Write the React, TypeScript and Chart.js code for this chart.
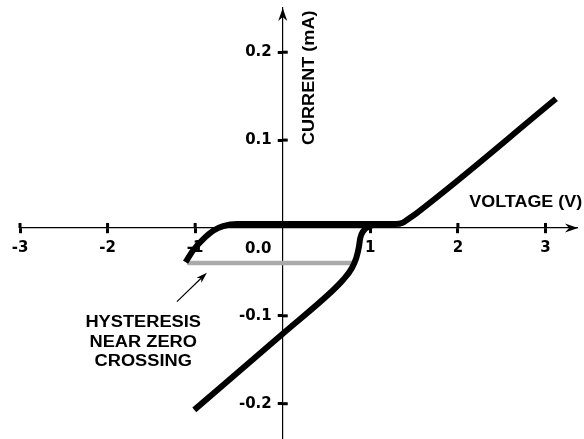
import React, { useEffect, useRef } from 'react';
import { Chart, registerables } from 'chart.js';

Chart.register(...registerables);

// Upper branch (sweep toward positive voltage), V and mA
const upperVoltage = [-1.11, -1.02, -0.91, -0.79, -0.68, -0.52, -0.26, 0.2, 0.77, 1.29, 1.37, 1.43, 1.53, 3.12];
const upperCurrent = [-0.039, -0.025, -0.013, -0.003, 0.002, 0.0045, 0.0045, 0.0045, 0.0045, 0.0045, 0.006, 0.01, 0.017, 0.147];

// Lower branch
const lowerVoltage = [-1.01, 0.01, 0.54, 0.69, 0.79, 0.84, 0.87, 0.885, 0.92, 0.98, 1.06, 1.17];
const lowerCurrent = [-0.207, -0.1195, -0.074, -0.059, -0.0455, -0.034, -0.0215, -0.0115, -0.0035, 0.0015, 0.004, 0.0045];

// Hysteresis (grey) segment
const hysteresisVoltage = [-1.09, 0.83];
const hysteresisCurrent = [-0.0398, -0.0398];

// Axis ticks
const xTickValues = [-3, -2, -1, 1, 2, 3];
const xTickLabels = ['-3', '-2', '-1', '1', '2', '3'];
const yTickValues = [-0.2, -0.1, 0.1, 0.2];
const yTickLabels = ['-0.2', '-0.1', '0.1', '0.2'];
const originLabel = '0.0';
const xTitle = 'VOLTAGE (V)';
const yTitle = 'CURRENT (mA)';
const noteLines = ['HYSTERESIS', 'NEAR ZERO', 'CROSSING'];

const FONT = '"Liberation Sans", Arial, Helvetica, sans-serif';
const TICK_FONT = '"DejaVu Sans", Verdana, sans-serif';

const toPoints = (xs: number[], ys: number[]) => xs.map((x, i) => ({ x, y: ys[i] }));

const decorPlugin = {
  id: 'decor',
  afterLayout(chart: any) {
    const ys = chart.scales.y;
    const x0 = chart.scales.x.getPixelForValue(0);
    ys.left = 0;
    ys.right = x0;
  },
  beforeDatasetsDraw(chart: any) {
    const { ctx, chartArea } = chart;
    const xs = chart.scales.x;
    const ys = chart.scales.y;
    const x0 = xs.getPixelForValue(0);
    const y0 = ys.getPixelForValue(0);
    ctx.save();
    ctx.strokeStyle = '#000';
    ctx.fillStyle = '#000';
    ctx.lineWidth = 3;
    // other halves of tick marks
    xTickValues.forEach((v) => {
      const p = xs.getPixelForValue(v);
      ctx.beginPath();
      ctx.moveTo(p, y0);
      ctx.lineTo(p, y0 - 5);
      ctx.stroke();
    });
    yTickValues.forEach((v) => {
      const p = ys.getPixelForValue(v);
      ctx.beginPath();
      ctx.moveTo(x0, p);
      ctx.lineTo(x0 + 5, p);
      ctx.stroke();
    });
    // arrowheads
    const R = chartArea.right + 1;
    ctx.beginPath();
    ctx.moveTo(R, y0);
    ctx.lineTo(R - 13, y0 - 4.5);
    ctx.lineTo(R - 9, y0);
    ctx.lineTo(R - 13, y0 + 4.5);
    ctx.closePath();
    ctx.fill();
    const T = chartArea.top;
    ctx.beginPath();
    ctx.moveTo(x0, T);
    ctx.lineTo(x0 - 4.5, T + 13);
    ctx.lineTo(x0, T + 9);
    ctx.lineTo(x0 + 4.5, T + 13);
    ctx.closePath();
    ctx.fill();
    ctx.restore();
  },
  afterDraw(chart: any) {
    const { ctx } = chart;
    const xs = chart.scales.x;
    const ys = chart.scales.y;
    const px = (v: number) => xs.getPixelForValue(v);
    const py = (v: number) => ys.getPixelForValue(v);
    const stretched = (text: string, x: number, y: number, sx: number, font: string) => {
      ctx.save();
      ctx.font = font;
      ctx.textAlign = 'center';
      ctx.textBaseline = 'alphabetic';
      ctx.translate(x, y);
      ctx.scale(sx, 1);
      ctx.fillText(text, 0, 0);
      ctx.restore();
    };
    ctx.save();
    ctx.fillStyle = '#000';
    // origin label
    stretched(originLabel, px(-0.28), py(-0.0284), 1.0, `bold 15px ${TICK_FONT}`);
    // x title
    stretched(xTitle, px(2.775), py(0.0233), 1.12, `bold 16px ${FONT}`);
    // y title (rotated)
    ctx.save();
    ctx.translate(px(0.36), py(0.1709));
    ctx.rotate(-Math.PI / 2);
    ctx.scale(1.13, 1);
    ctx.font = `bold 16px ${FONT}`;
    ctx.textAlign = 'center';
    ctx.textBaseline = 'alphabetic';
    ctx.fillText(yTitle, 0, 0);
    ctx.restore();
    // note
    const noteY = [-0.1123, -0.1351, -0.1567];
    noteLines.forEach((t, i) => stretched(t, px(-1.593), py(noteY[i]), 1.14, `bold 16px ${FONT}`));
    // note arrow
    const tx = px(-1.208), ty = py(-0.0838);
    const hx = px(-0.866), hy = py(-0.0509);
    const ang = Math.atan2(hy - ty, hx - tx);
    ctx.strokeStyle = '#000';
    ctx.lineWidth = 1.2;
    ctx.beginPath();
    ctx.moveTo(tx, ty);
    ctx.lineTo(hx - 8 * Math.cos(ang), hy - 8 * Math.sin(ang));
    ctx.stroke();
    ctx.beginPath();
    ctx.translate(hx, hy);
    ctx.rotate(ang);
    ctx.moveTo(0, 0);
    ctx.lineTo(-11, -3.5);
    ctx.lineTo(-8, 0);
    ctx.lineTo(-11, 3.5);
    ctx.closePath();
    ctx.fill();
    ctx.restore();
  },
};

export default function App() {
  const ref = useRef<HTMLCanvasElement | null>(null);
  useEffect(() => {
    if (!ref.current) return;
    const tickFont = { family: TICK_FONT, size: 15, weight: 'bold' as const };
    const chart = new Chart(ref.current, {
      type: 'line',
      data: {
        datasets: [
          {
            data: toPoints(hysteresisVoltage, hysteresisCurrent),
            borderColor: '#aaaaaa',
            borderWidth: 4.5,
            pointRadius: 0,
            borderCapStyle: 'butt',
            order: 3,
          },
          {
            data: toPoints(lowerVoltage, lowerCurrent),
            borderColor: '#000000',
            borderWidth: 6,
            pointRadius: 0,
            cubicInterpolationMode: 'monotone',
            borderCapStyle: 'butt',
            order: 1,
          },
          {
            data: toPoints(upperVoltage, upperCurrent),
            borderColor: '#000000',
            borderWidth: 6,
            pointRadius: 0,
            cubicInterpolationMode: 'monotone',
            borderCapStyle: 'butt',
            order: 1,
          },
        ],
      },
      options: {
        responsive: false,
        animation: false,
        events: [],
        layout: { padding: { left: 20, right: 7, top: 8, bottom: 1 } },
        plugins: { legend: { display: false }, tooltip: { enabled: false }, title: { display: false } },
        scales: {
          x: {
            type: 'linear',
            min: -3,
            max: 3.36,
            position: { y: 0 } as any,
            afterFit: (s: any) => { s.height = 0; s.paddingLeft = 0; s.paddingRight = 0; s.paddingTop = 0; s.paddingBottom = 0; },
            afterBuildTicks: (s: any) => { s.ticks = xTickValues.map((v) => ({ value: v })); },
            grid: { drawOnChartArea: false, drawTicks: true, tickLength: 5, tickWidth: 3, tickColor: '#000' },
            border: { display: true, color: '#000', width: 1.2 },
            ticks: {
              autoSkip: false,
              maxRotation: 0,
              padding: 6,
              color: '#000',
              font: tickFont,
              callback: (_v: any, i: number) => xTickLabels[i],
            },
          },
          y: {
            type: 'linear',
            min: -0.239,
            max: 0.2503,
            position: 'left',
            afterFit: (s: any) => { s.width = 0; s.paddingLeft = 0; s.paddingRight = 0; s.paddingTop = 0; s.paddingBottom = 0; },
            afterBuildTicks: (s: any) => { s.ticks = yTickValues.map((v) => ({ value: v })); },
            grid: { drawOnChartArea: false, drawTicks: true, tickLength: 5, tickWidth: 3, tickColor: '#000' },
            border: { display: true, color: '#000', width: 1.2 },
            ticks: {
              autoSkip: false,
              padding: 6,
              color: '#000',
              font: tickFont,
              callback: (_v: any, i: number) => yTickLabels[i],
            },
          },
        },
      },
      plugins: [decorPlugin],
    });
    return () => chart.destroy();
  }, []);
  return (
    <div style={{ position: 'fixed', left: 0, top: 0, width: 584, height: 439, background: '#fff' }}>
      <canvas ref={ref} width={584} height={439} />
    </div>
  );
}
